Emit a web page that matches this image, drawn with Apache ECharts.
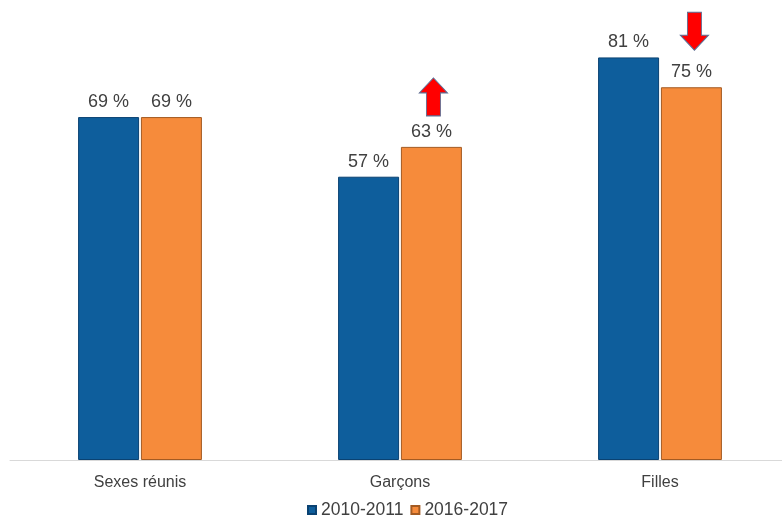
<!DOCTYPE html>
<html><head><meta charset="utf-8">
<script src="https://cdn.jsdelivr.net/npm/echarts@6/dist/echarts.min.js"></script>
<style>html,body{margin:0;padding:0;background:#fff;overflow:hidden;width:782px;height:517px}#c{width:792px;height:517px}</style>
</head><body><div id="c"></div>
<script>
var categories = ['Sexes réunis', 'Garçons', 'Filles'];
var series2010 = [69, 57, 81];
var series2016 = [69, 63, 75];
var seriesNames = ['2010-2011', '2016-2017'];
var arrowUp = 'path://M14,0 L28,15 L21,15 L21,38 L7,38 L7,15 L0,15 Z';
var arrowDown = 'path://M7,0 L21,0 L21,23 L28,23 L14,38 L0,23 L7,23 Z';

var chart = echarts.init(document.getElementById('c'));
var font = 'Liberation Sans, Arial, sans-serif';
var labelStyle = {show: true, position: 'top', distance: 6, formatter: '{c} %', color: '#404040', fontSize: 18, fontFamily: font};
chart.setOption({
  animation: false,
  grid: {left: 10, width: 780, top: 12.7, bottom: 57},
  legend: {top: 496, left: 302, itemWidth: 8, itemHeight: 8, itemGap: 7,
    textStyle: {color: '#404040', fontSize: 17.5, fontFamily: font},
    data: seriesNames, icon: 'rect'},
  xAxis: {type: 'category', data: categories,
    axisLine: {lineStyle: {color: '#d9d9d9', width: 1}}, axisTick: {show: false},
    axisLabel: {color: '#404040', fontSize: 16, margin: 15, fontFamily: font}},
  yAxis: {type: 'value', min: 0, max: 90, show: false, splitLine: {show: false}},
  series: [
    {name: seriesNames[0], type: 'bar', data: series2010, barWidth: 61, barGap: '3%',
      itemStyle: {color: '#0E5E9C', borderColor: '#0A4272', borderWidth: 1}, label: labelStyle},
    {name: seriesNames[1], type: 'bar', data: series2016, barWidth: 61,
      itemStyle: {color: '#F68B3B', borderColor: '#A35A22', borderWidth: 1}, label: labelStyle,
      markPoint: {symbolSize: [28, 38], label: {show: false},
        itemStyle: {color: '#FF0000', borderColor: '#5B6E94', borderWidth: 1},
        data: [
          {coord: [categories[1], series2016[1]], symbol: arrowUp, symbolOffset: [2, -50]},
          {coord: [categories[2], series2016[2]], symbol: arrowDown, symbolOffset: [3, -56]}
        ]}}
  ]
});
</script></body></html>
